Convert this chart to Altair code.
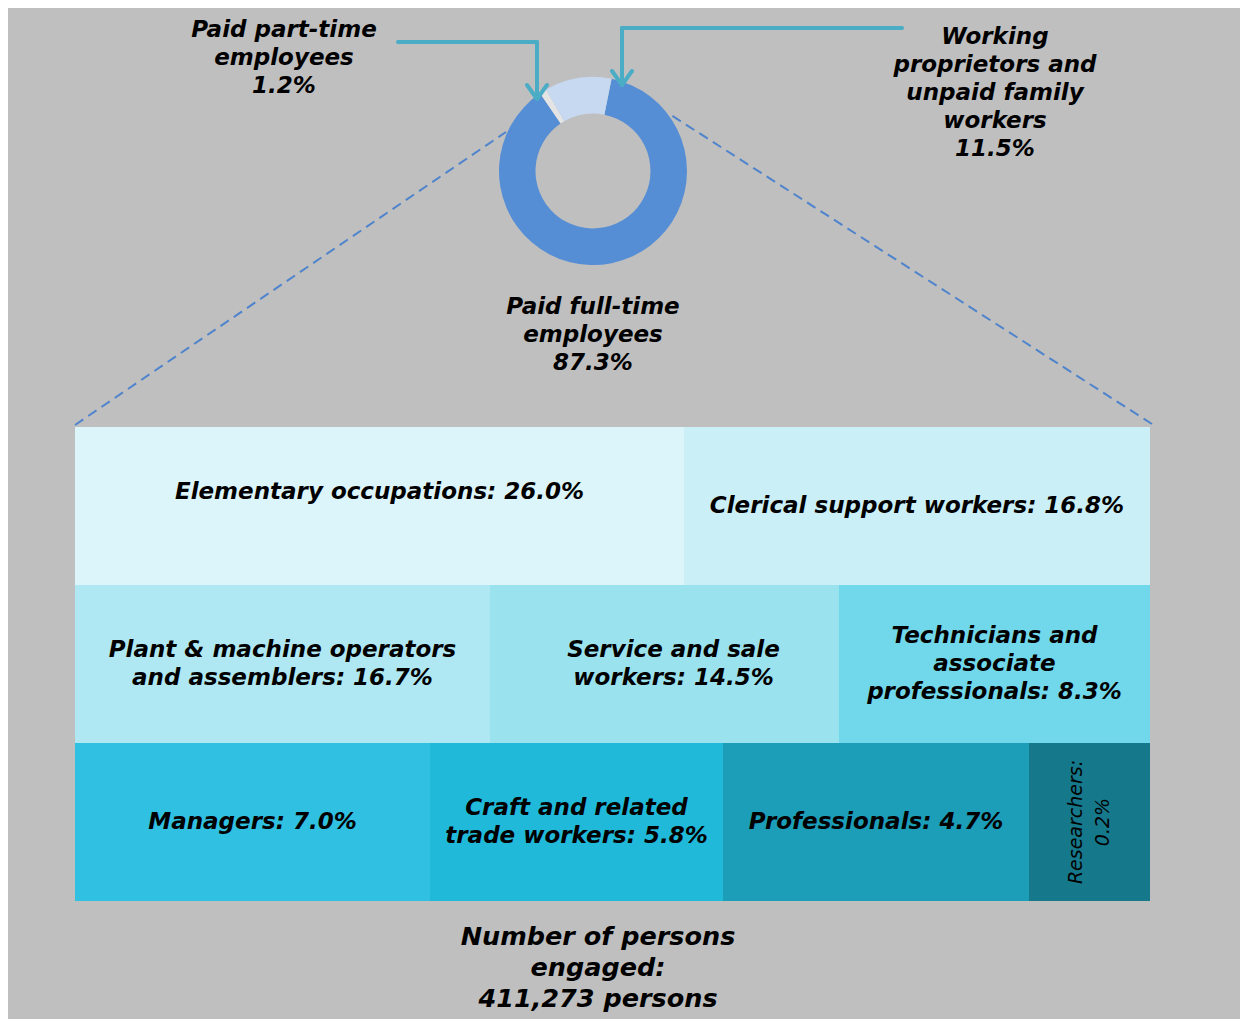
import math
import altair as alt
import pandas as pd

# ---------------- data ----------------
donut_groups = ["Paid full-time employees", "Paid part-time employees",
                "Working proprietors and unpaid family workers"]
donut_label_names = ["Paid full-time\nemployees", "Paid part-time\nemployees",
                     "Working\nproprietors and\nunpaid family\nworkers"]
donut_shares = [87.3, 1.2, 11.5]

occupations = ["Elementary occupations", "Clerical support workers",
               "Plant & machine operators and assemblers", "Service and sale workers",
               "Technicians and associate professionals", "Managers",
               "Craft and related trade workers", "Professionals", "Researchers"]
occupation_label_names = ["Elementary occupations", "Clerical support workers",
                          "Plant & machine operators\nand assemblers", "Service  and sale\nworkers",
                          "Technicians and\nassociate\nprofessionals", "Managers",
                          "Craft and related\ntrade workers", "Professionals", "Researchers"]
occupation_shares = [26.0, 16.8, 16.7, 14.5, 8.3, 7.0, 5.8, 4.7, 0.2]
total_persons = 411273

# ---------------- layout / style ----------------
donut_stack_order = [1, 2, 0]
donut_colors = ["#558ed5", "#e4e4e4", "#c6d9f1"]
donut_center = (593, 171)
donut_label_pos = [(593, 307), (284, 30), (995, 37)]   # centre of first line

cell_row = [0, 0, 1, 1, 1, 2, 2, 2, 2]
cell_width = [609, 466, 415, 349, 311, 355, 293, 306, 121]
label_dx = [0, 0, 0, 9, 0, 0, 0, 0, 0]
label_dy = [-14, 0, 0, 0, 0, 0, 0, 0, 0]
occ_colors = ["#dcf5fa", "#caeff7", "#afe7f2", "#9be2ef", "#71d7ea",
              "#30c1e2", "#21b9da", "#1c9db8", "#16788b"]
block_left, block_top, row_height = 75, 427, 158
LH = 28          # label line height
RES_LH = 27      # rotated label line height

X0, X1, Y0, Y1 = 8, 1240, 8, 1019
XS = alt.Scale(domain=[X0, X1], range=[0, X1 - X0], nice=False, zero=False)
YS = alt.Scale(domain=[Y0, Y1], range=[0, Y1 - Y0], nice=False, zero=False)

# treemap cells
rows = []
cursor = {}
for name, lab, v, r, w, dx, dy in zip(occupations, occupation_label_names, occupation_shares,
                                      cell_row, cell_width, label_dx, label_dy):
    x0 = cursor.get(r, block_left)
    x1 = x0 + w
    cursor[r] = x1
    y0 = block_top + r * row_height
    y1 = y0 + row_height
    rotated = name == "Researchers"
    sep = "\n" if rotated else " "
    label = f"{lab}:{sep}{v:.1f}%"
    n = label.count("\n")
    cx = (x0 + x1) / 2 + dx
    cy = (y0 + y1) / 2 + dy
    if rotated:
        cx -= n * RES_LH / 2
    else:
        cy -= n * LH / 2
    rows.append(dict(occ=name, x0=x0, x1=x1, y0=y0, y1=y1, cx=cx, cy=cy, label=label))
cells = pd.DataFrame(rows)

rects = alt.Chart(cells).mark_rect(strokeWidth=0).encode(
    x=alt.X("x0:Q", scale=XS, axis=None), x2="x1:Q",
    y=alt.Y("y0:Q", scale=YS, axis=None), y2="y1:Q",
    color=alt.Color("occ:N", scale=alt.Scale(domain=occupations, range=occ_colors), legend=None),
)

text_style = dict(font="DejaVu Sans", fontStyle="italic", fontWeight="bold",
                  color="#000000", align="center", baseline="middle", lineBreak="\n")

cell_labels = alt.Chart(cells[cells.occ != "Researchers"]).mark_text(
    fontSize=23, lineHeight=LH, **text_style).encode(
    x=alt.X("cx:Q", scale=XS, axis=None), y=alt.Y("cy:Q", scale=YS, axis=None), text="label:N")

res_style = dict(text_style)
res_style["fontWeight"] = "normal"
res_label = alt.Chart(cells[cells.occ == "Researchers"]).mark_text(
    fontSize=19, lineHeight=RES_LH, angle=270, **res_style).encode(
    x=alt.X("cx:Q", scale=XS, axis=None), y=alt.Y("cy:Q", scale=YS, axis=None), text="label:N")

# donut
donut_df = pd.DataFrame(dict(group=donut_groups, share=donut_shares, ord=donut_stack_order))
start = math.radians(-30) + 2 * math.pi
donut = alt.Chart(donut_df).mark_arc(innerRadius=57.5, outerRadius=94, strokeWidth=0).encode(
    theta=alt.Theta("share:Q", stack=True, scale=alt.Scale(range=[start, start + 2 * math.pi])),
    order=alt.Order("ord:Q"),
    color=alt.Color("group:N", scale=alt.Scale(domain=donut_groups, range=donut_colors), legend=None),
    x=alt.XDatum(donut_center[0], scale=XS, axis=None),
    y=alt.YDatum(donut_center[1], scale=YS, axis=None),
)

donut_text_df = pd.DataFrame(dict(
    x=[p[0] for p in donut_label_pos], y=[p[1] for p in donut_label_pos],
    label=[f"{n}\n{v:.1f}%" for n, v in zip(donut_label_names, donut_shares)]))
donut_labels = alt.Chart(donut_text_df).mark_text(fontSize=23, lineHeight=LH, **text_style).encode(
    x=alt.X("x:Q", scale=XS, axis=None), y=alt.Y("y:Q", scale=YS, axis=None), text="label:N")

total_df = pd.DataFrame(dict(x=[598], y=[937],
                             label=[f"Number of persons\nengaged:\n{total_persons:,} persons"]))
total_label = alt.Chart(total_df).mark_text(fontSize=25.5, lineHeight=31, **text_style).encode(
    x=alt.X("x:Q", scale=XS, axis=None), y=alt.Y("y:Q", scale=YS, axis=None), text="label:N")

# zoom-out dashed guide lines
guides = pd.DataFrame(dict(x=[75, 1152], y=[425, 424], x2=[506, 671], y2=[132, 115]))
guide_lines = alt.Chart(guides).mark_rule(color="#4f84cc", strokeWidth=2, strokeDash=[10, 6]).encode(
    x=alt.X("x:Q", scale=XS, axis=None), y=alt.Y("y:Q", scale=YS, axis=None), x2="x2:Q", y2="y2:Q")

# callout arrows
arrow_segments = pd.DataFrame(dict(
    x=[398, 537, 527, 547, 902, 622, 612, 632],
    y=[42, 42, 85, 85, 28, 28, 71, 71],
    x2=[537, 537, 537, 537, 622, 622, 622, 622],
    y2=[42, 99, 99, 99, 28, 85, 85, 85]))
arrows = alt.Chart(arrow_segments).mark_rule(color="#4bacc6", strokeWidth=4, strokeCap="round").encode(
    x=alt.X("x:Q", scale=XS, axis=None), y=alt.Y("y:Q", scale=YS, axis=None), x2="x2:Q", y2="y2:Q")

chart = alt.layer(
    guide_lines, rects, cell_labels, res_label, donut, donut_labels, total_label, arrows
).resolve_scale(color="independent").properties(
    width=X1 - X0, height=Y1 - Y0, background="#bfbfbf", padding=0,
    autosize=alt.AutoSizeParams(type="none"),
).configure_view(stroke=None)

chart.save("out.html", embed_options={"renderer": "svg", "actions": False})
